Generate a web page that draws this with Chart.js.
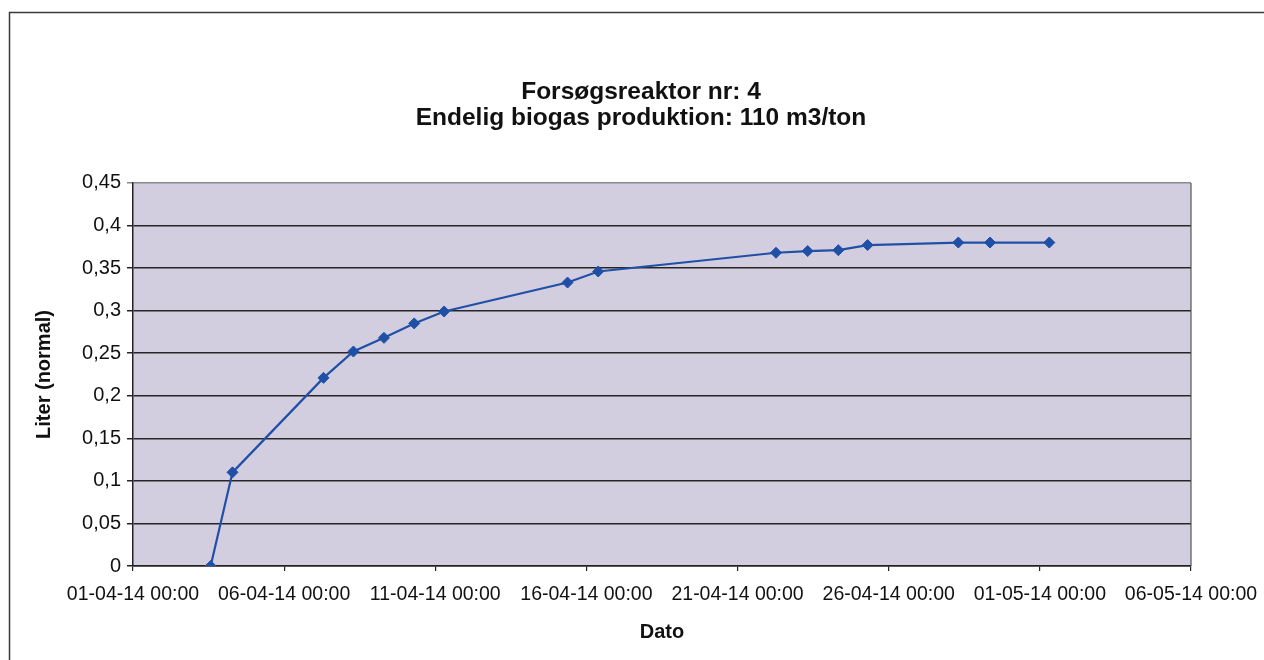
<!DOCTYPE html>
<html>
<head>
<meta charset="utf-8">
<script src="https://cdn.jsdelivr.net/npm/chart.js@4.4.1/dist/chart.umd.min.js"></script>
<style>
  html, body { margin: 0; padding: 0; background: #ffffff; }
  #wrap { width: 1264px; height: 660px; position: relative; }
</style>
</head>
<body>
<div id="wrap"><canvas id="c" width="1264" height="660"></canvas></div>
<script>
// ---- data ----
const titleLines = ['Forsøgsreaktor nr: 4', 'Endelig biogas produktion: 110 m3/ton'];
const xAxisTitle = 'Dato';
const yAxisTitle = 'Liter (normal)';
const sampleTimes = [
  '2014-04-03 13:40', '2014-04-04 07:00', '2014-04-07 07:15', '2014-04-08 07:00',
  '2014-04-09 07:15', '2014-04-10 07:15', '2014-04-11 07:00', '2014-04-15 09:00',
  '2014-04-16 09:20', '2014-04-22 06:30', '2014-04-23 07:40', '2014-04-24 08:00',
  '2014-04-25 07:15', '2014-04-28 07:15', '2014-04-29 08:25', '2014-05-01 07:30'
];
const litersNormal = [
  0.000, 0.110, 0.221, 0.252, 0.268, 0.285, 0.299, 0.333,
  0.346, 0.368, 0.370, 0.371, 0.377, 0.380, 0.380, 0.380
];
const xAxisStart = '2014-04-01 00:00';
const xAxisEnd = '2014-05-06 00:00';
const xStepDays = 5;
const yTicks = [0, 0.05, 0.1, 0.15, 0.2, 0.25, 0.3, 0.35, 0.4, 0.45];

// ---- helpers ----
const DAY = 86400000;
function parseStamp(s) {
  const [d, t] = s.split(' ');
  const [y, m, dd] = d.split('-').map(Number);
  const [h, mi] = t.split(':').map(Number);
  return Date.UTC(y, m - 1, dd, h, mi);
}
const t0 = parseStamp(xAxisStart);
const toDays = s => (parseStamp(s) - t0) / DAY;
const pad2 = n => String(n).padStart(2, '0');
function fmtDays(v) {
  const dt = new Date(t0 + Math.round(v * DAY));
  return pad2(dt.getUTCDate()) + '-' + pad2(dt.getUTCMonth() + 1) + '-' +
         pad2(dt.getUTCFullYear() % 100) + ' ' + pad2(dt.getUTCHours()) + ':' + pad2(dt.getUTCMinutes());
}
const points = sampleTimes.map((s, i) => ({ x: toDays(s), y: litersNormal[i] }));

const FONT = "'Liberation Sans', Arial, Helvetica, sans-serif";
const blue = '#2050a6';

const framePlugin = {
  id: 'frame',
  beforeDraw(chart) {
    const ctx = chart.ctx;
    const a = chart.chartArea;
    ctx.save();
    ctx.fillStyle = '#ffffff';
    ctx.fillRect(0, 0, chart.width, chart.height);
    // outer chart border
    ctx.strokeStyle = '#3a3a3a';
    ctx.lineWidth = 1.5;
    ctx.beginPath();
    ctx.moveTo(chart.width + 5, 12.5);
    ctx.lineTo(9.5, 12.5);
    ctx.lineTo(9.5, chart.height + 5);
    ctx.stroke();
    // plot area
    ctx.fillStyle = '#d2cee0';
    ctx.fillRect(a.left, a.top, a.right - a.left, a.bottom - a.top);
    ctx.restore();
  },
  beforeDatasetsDraw(chart) {
    const ctx = chart.ctx;
    const a = chart.chartArea;
    ctx.save();
    ctx.strokeStyle = '#555555';
    ctx.lineWidth = 1.2;
    ctx.beginPath();
    ctx.moveTo(a.right, a.top);
    ctx.lineTo(a.right, a.bottom);
    ctx.stroke();
    ctx.restore();
  }
};

new Chart(document.getElementById('c'), {
  type: 'line',
  data: {
    datasets: [{
      data: points,
      borderColor: blue,
      backgroundColor: blue,
      borderWidth: 2.2,
      pointStyle: 'rectRot',
      pointRadius: 5.5,
      pointHoverRadius: 5.5,
      pointBackgroundColor: blue,
      pointBorderColor: blue,
      pointBorderWidth: 1,
      tension: 0,
      fill: false
    }]
  },
  options: {
    responsive: false,
    animation: false,
    devicePixelRatio: 1,
    layout: { padding: { left: 18, right: 0, top: 0, bottom: 0 } },
    plugins: {
      legend: { display: false },
      tooltip: { enabled: false },
      title: {
        display: true,
        text: titleLines,
        color: '#111111',
        font: { family: FONT, size: 24.5, weight: 'bold', lineHeight: 1.06 },
        padding: { top: 79, bottom: 52 }
      }
    },
    scales: {
      x: {
        type: 'linear',
        min: 0,
        max: toDays(xAxisEnd),
        afterBuildTicks(scale) {
          const ticks = [];
          for (let v = 0; v <= toDays(xAxisEnd) + 1e-9; v += xStepDays) ticks.push({ value: v });
          scale.ticks = ticks;
        },
        afterFit(scale) {
          scale.height = 94;
          scale.paddingLeft = 0;
          scale.paddingRight = 0;
        },
        grid: { display: true, drawOnChartArea: false, drawTicks: true, tickLength: 5, color: '#222222', lineWidth: 1.2 },
        border: { display: true, color: '#222222', width: 1.5 },
        ticks: {
          autoSkip: false,
          maxRotation: 0,
          minRotation: 0,
          padding: 12,
          color: '#111111',
          font: { family: FONT, size: 19.5 },
          callback: v => fmtDays(v)
        },
        title: {
          display: true,
          text: xAxisTitle,
          color: '#111111',
          font: { family: FONT, size: 20, weight: 'bold', lineHeight: 1.2 },
          padding: { top: 0, bottom: 16 }
        }
      },
      y: {
        type: 'linear',
        position: 'left',
        min: 0,
        max: 0.45,
        afterBuildTicks(scale) { scale.ticks = yTicks.map(v => ({ value: v })); },
        afterFit(scale) { scale.width = 115; },
        grid: {
          display: true,
          drawTicks: true,
          tickLength: 6,
          color: ctx => (ctx.tick && Math.abs(ctx.tick.value - 0.45) < 1e-9) ? '#8a8a8a' : '#262626',
          lineWidth: 1.5
        },
        border: { display: true, color: '#222222', width: 1.5 },
        ticks: {
          padding: 6,
          color: '#111111',
          font: { family: FONT, size: 20 },
          callback: v => String(+v.toFixed(2)).replace('.', ',')
        },
        title: {
          display: true,
          text: yAxisTitle,
          color: '#111111',
          font: { family: FONT, size: 20, weight: 'bold', lineHeight: 1.2 },
          padding: { top: 14, bottom: 0 }
        }
      },
      yRight: {
        type: 'linear',
        position: 'right',
        display: true,
        min: 0,
        max: 1,
        afterFit(scale) { scale.width = 73; },
        grid: { display: false },
        border: { display: false },
        ticks: { display: false }
      }
    }
  },
  plugins: [framePlugin]
});
</script>
</body>
</html>
